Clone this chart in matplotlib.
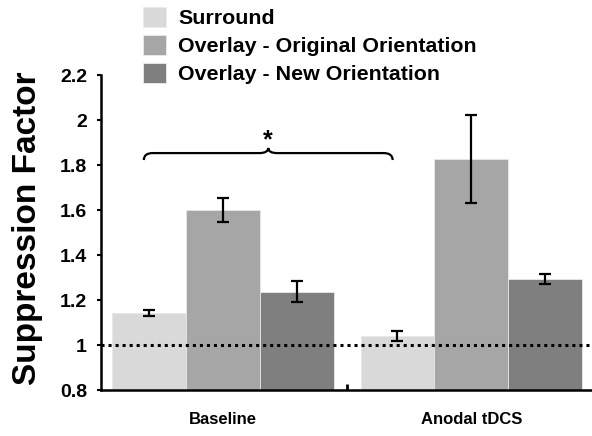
import numpy as np
import matplotlib
matplotlib.use("Agg")
import matplotlib.pyplot as plt
from matplotlib.path import Path
from matplotlib.patches import PathPatch, Patch

plt.rcParams['font.family'] = ['Liberation Sans', 'DejaVu Sans']
plt.rcParams['font.weight'] = 'bold'

# data
groups = ['Baseline', 'Anodal tDCS']
series = ['Surround', 'Overlay - Original Orientation', 'Overlay - New Orientation']
means = {
    'Surround': [1.141, 1.040],
    'Overlay - Original Orientation': [1.599, 1.827],
    'Overlay - New Orientation': [1.237, 1.293],
}
errs = {
    'Surround': [0.013, 0.022],
    'Overlay - Original Orientation': [0.053, 0.195],
    'Overlay - New Orientation': [0.047, 0.022],
}
yticks = [0.8, 1, 1.2, 1.4, 1.6, 1.8, 2, 2.2]
yticklabels = ['0.8', '1', '1.2', '1.4', '1.6', '1.8', '2', '2.2']
colors = ['#d9d9d9', '#a6a6a6', '#7f7f7f']

fig = plt.figure(figsize=(5.92, 4.36), dpi=100)
ax = fig.add_axes([101/592, 1 - 390/436, 491/592, 315/436])

gap = 27/74
starts = np.array([0.0, 3 + gap])
for i, s in enumerate(series):
    xs = starts + i
    ax.bar(xs, np.array(means[s]) - 0.8, bottom=0.8, width=1.0, color=colors[i],
           edgecolor='#e8e8e8', linewidth=0.6, zorder=2)
    ax.errorbar(xs, means[s], yerr=errs[s], fmt='none', ecolor='black',
                elinewidth=1.6, capsize=4.3, capthick=1.6, zorder=3)

ax.axhline(1.0, color='black', linestyle=(0, (1, 1.3)), linewidth=2.2, zorder=4)

ax.set_xlim(-0.65, 6.0)
ax.set_ylim(0.8, 2.2)
ax.set_yticks(yticks)
ax.set_yticklabels(yticklabels, fontsize=14, fontweight='bold')
ax.tick_params(axis='y', direction='out', length=3, width=1.5, pad=7)

centers = starts + 1
ax.set_xticks(centers)
ax.set_xticklabels(groups, fontsize=12, fontweight='bold')
ax.tick_params(axis='x', which='major', length=0, pad=16)
ax.set_xticks([(2.5 + starts[1] - 0.5) / 2], minor=True)
ax.tick_params(axis='x', which='minor', direction='in', length=4, width=2)

for sp in ['top', 'right']:
    ax.spines[sp].set_visible(False)
for sp in ['left', 'bottom']:
    ax.spines[sp].set_linewidth(1.8)

ax.set_ylabel('Suppression Factor', fontsize=24, fontweight='bold')
ax.yaxis.set_label_coords(-0.118, 0.515)

# significance brace
x0, x1 = -0.07, 3.3
xc = (x0 + x1) / 2
yb, ym, yp = 1.822, 1.853, 1.876
d = 0.12
verts = [(x0, yb), (x0, ym), (x0 + d, ym),
         (xc - d, ym), (xc, ym), (xc, yp),
         (xc, ym), (xc + d, ym),
         (x1 - d, ym), (x1, ym), (x1, yb)]
codes = [Path.MOVETO, Path.CURVE3, Path.CURVE3,
         Path.LINETO, Path.CURVE3, Path.CURVE3,
         Path.CURVE3, Path.CURVE3,
         Path.LINETO, Path.CURVE3, Path.CURVE3]
ax.add_patch(PathPatch(Path(verts, codes), facecolor='none', edgecolor='black',
                       linewidth=1.6, clip_on=False))
ax.text(xc, 1.91, '*', ha='center', va='center', fontsize=18, fontweight='bold')

handles = [Patch(facecolor=c, edgecolor='#ececec', linewidth=0.6) for c in colors]
fig.legend(handles, series, loc='upper left', bbox_to_anchor=(143/592, 1 - 7/436),
           frameon=False, prop={'weight': 'bold', 'size': 15.4},
           handlelength=1.075, handleheight=1.075, handletextpad=0.56,
           labelspacing=0.3, borderpad=0, borderaxespad=0)

fig.savefig('out.png', dpi=100)
